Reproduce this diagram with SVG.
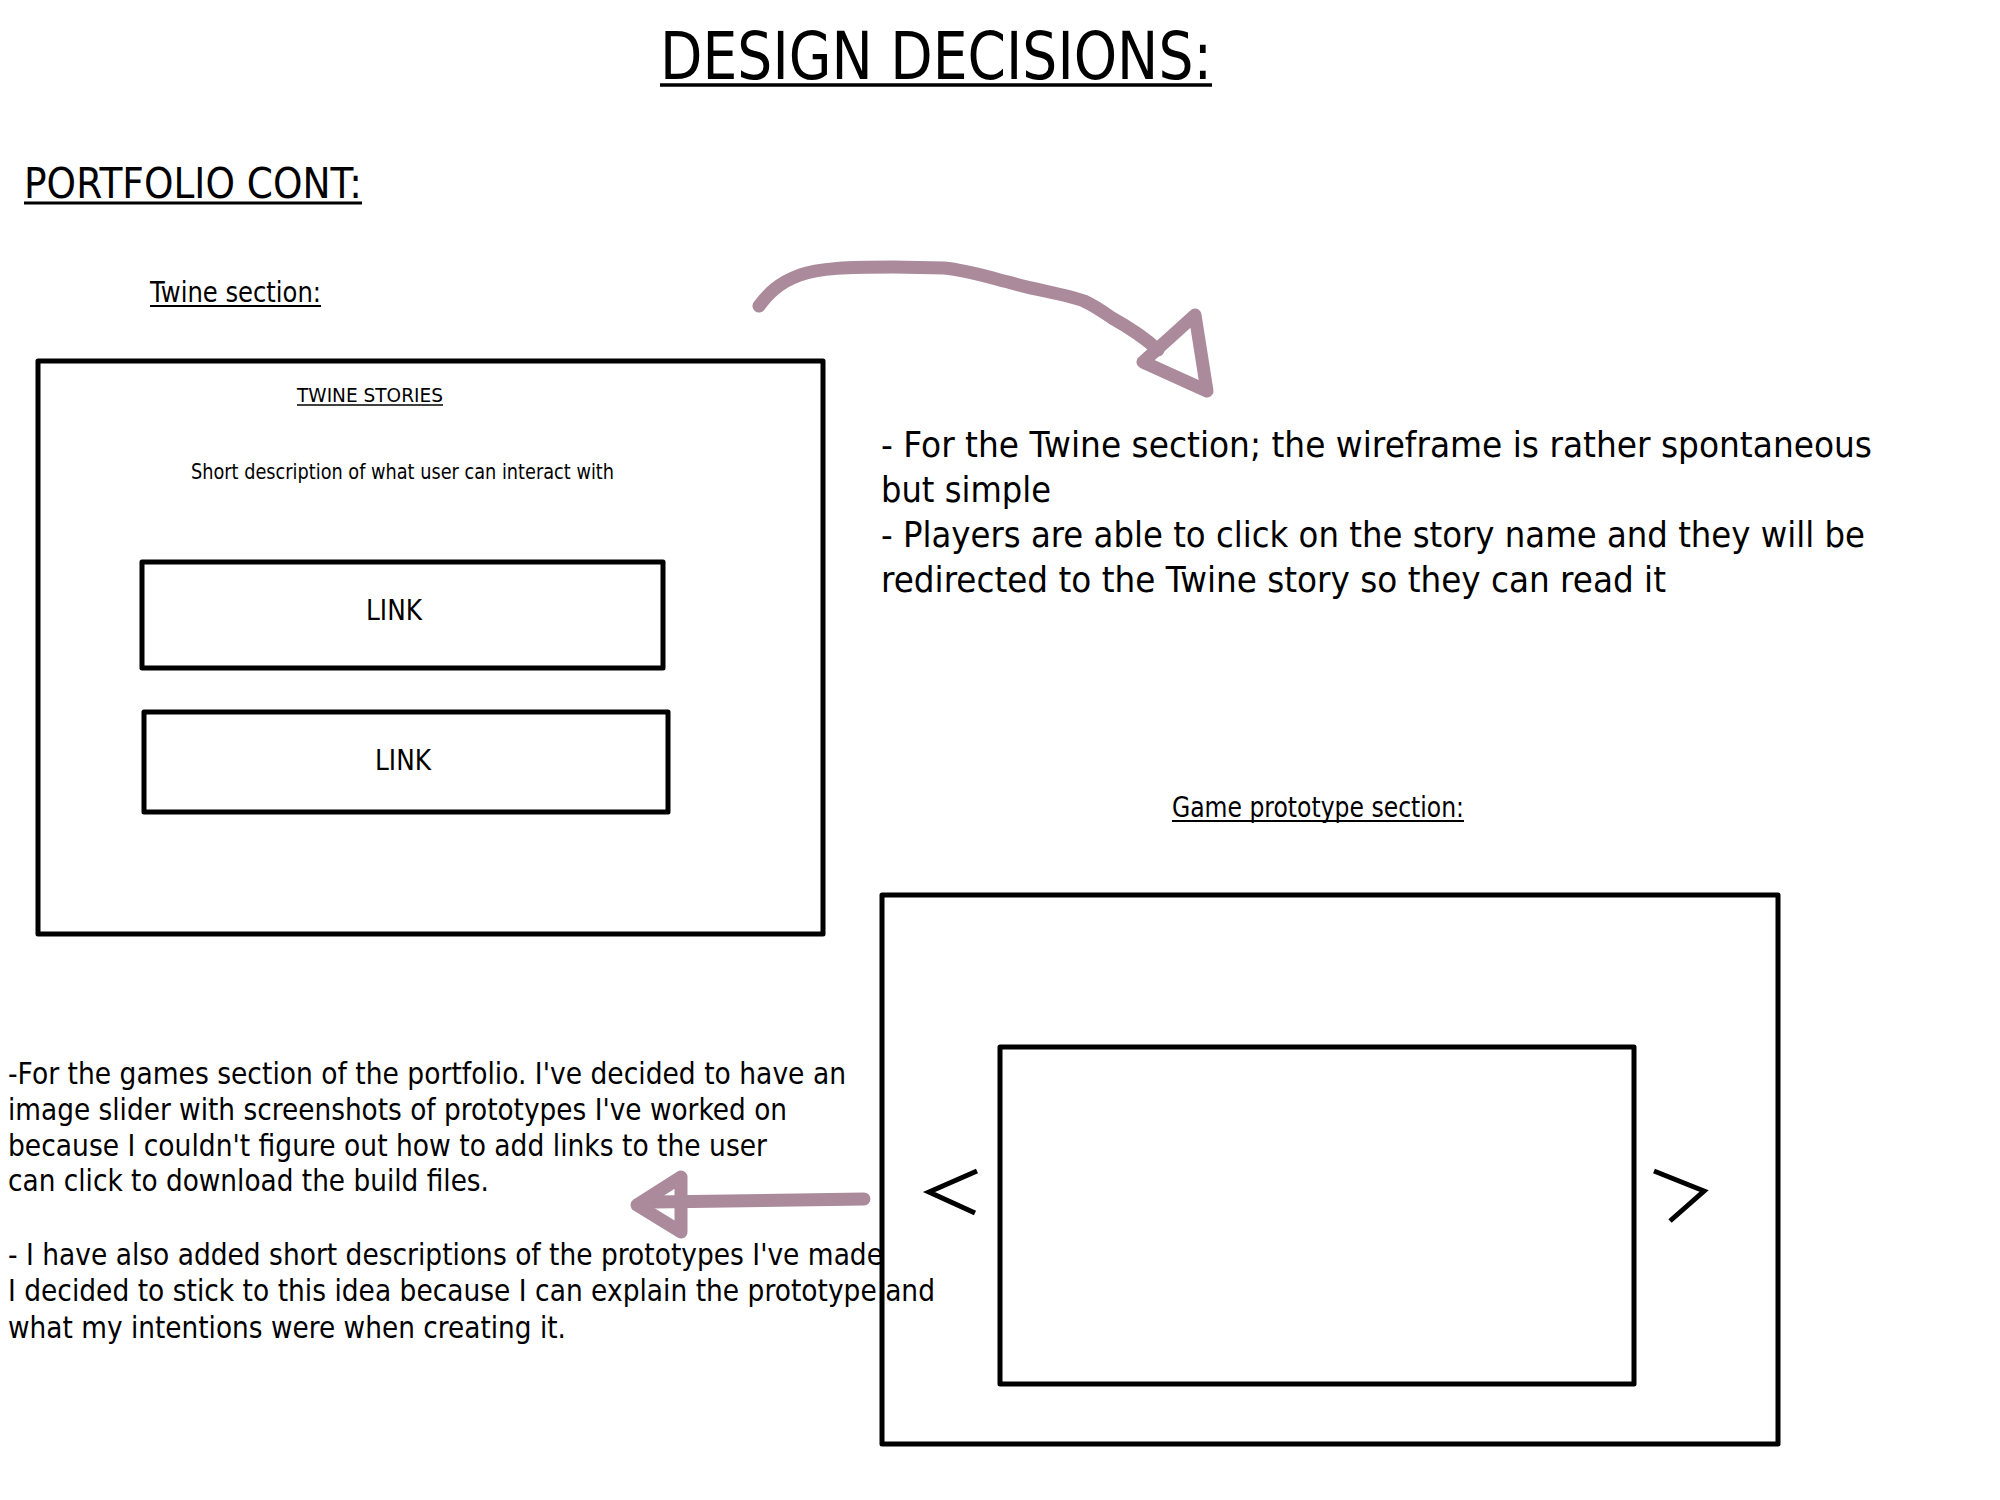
<svg xmlns="http://www.w3.org/2000/svg" width="2000" height="1500" viewBox="0 0 2000 1500">
<style>
  text { font-family: "DejaVu Sans", "Liberation Sans", sans-serif; fill: #000; }
  .box { fill: none; stroke: #000; stroke-width: 5; stroke-linejoin: round; }
  .ul { stroke: #000; stroke-width: 2.5; }
  .arrow { fill: none; stroke: #ab8a9b; stroke-width: 13; stroke-linecap: round; stroke-linejoin: round; }
  .chev { fill: none; stroke: #000; stroke-width: 5; }
</style>
<rect width="2000" height="1500" fill="#fff"/>

<g id="title">
  <text x="660" y="79" font-size="65" textLength="552" lengthAdjust="spacingAndGlyphs">DESIGN DECISIONS:</text>
  <line class="ul" x1="660" y1="85" x2="1212" y2="85" style="stroke-width:3.5"/>
</g>
<g id="portfolio-heading">
  <text x="24" y="198" font-size="42" textLength="338" lengthAdjust="spacingAndGlyphs">PORTFOLIO CONT:</text>
  <line class="ul" x1="24" y1="203" x2="362" y2="203" style="stroke-width:3"/>
</g>
<g id="twine-heading">
  <text x="150" y="302" font-size="29" textLength="171" lengthAdjust="spacingAndGlyphs">Twine section:</text>
  <line class="ul" x1="150" y1="306" x2="321" y2="306" style="stroke-width:2"/>
</g>

<g id="twine-wireframe">
  <rect class="box" x="38" y="361" width="785" height="573"/>
  <text x="297" y="402" font-size="20" textLength="146" lengthAdjust="spacingAndGlyphs">TWINE STORIES</text>
  <line class="ul" x1="297" y1="405" x2="443" y2="405" style="stroke-width:1.5"/>
  <text x="191" y="479" font-size="21" textLength="423" lengthAdjust="spacingAndGlyphs">Short description of what user can interact with</text>
</g>
<g id="link1">
  <rect class="box" x="142" y="562" width="521" height="106"/>
  <text x="366" y="620" font-size="28" textLength="56" lengthAdjust="spacingAndGlyphs">LINK</text>
</g>
<g id="link2">
  <rect class="box" x="144" y="712" width="524" height="100"/>
  <text x="375" y="770" font-size="28" textLength="56" lengthAdjust="spacingAndGlyphs">LINK</text>
</g>

<g id="twine-notes">
  <text x="881" y="457" font-size="36" textLength="991" lengthAdjust="spacingAndGlyphs">- For the Twine section; the wireframe is rather spontaneous</text>
  <text x="881" y="502" font-size="36" textLength="170" lengthAdjust="spacingAndGlyphs">but simple</text>
  <text x="881" y="547" font-size="36" textLength="984" lengthAdjust="spacingAndGlyphs">- Players are able to click on the story name and they will be</text>
  <text x="881" y="592" font-size="36" textLength="785" lengthAdjust="spacingAndGlyphs">redirected to the Twine story so they can read it</text>
</g>

<g id="game-heading">
  <text x="1172" y="817" font-size="29" textLength="292" lengthAdjust="spacingAndGlyphs">Game prototype section:</text>
  <line class="ul" x1="1172" y1="821" x2="1464" y2="821" style="stroke-width:2"/>
</g>

<g id="game-notes">
  <text x="8" y="1084" font-size="31" textLength="838" lengthAdjust="spacingAndGlyphs">-For the games section of the portfolio. I've decided to have an</text>
  <text x="8" y="1120" font-size="31" textLength="779" lengthAdjust="spacingAndGlyphs">image slider with screenshots of prototypes I've worked on</text>
  <text x="8" y="1156" font-size="31" textLength="759" lengthAdjust="spacingAndGlyphs">because I couldn't figure out how to add links to the user</text>
  <text x="8" y="1191" font-size="31" textLength="481" lengthAdjust="spacingAndGlyphs">can click to download the build files.</text>
  <text x="8" y="1265" font-size="31" textLength="875" lengthAdjust="spacingAndGlyphs">- I have also added short descriptions of the prototypes I've made</text>
  <text x="8" y="1301" font-size="31" textLength="927" lengthAdjust="spacingAndGlyphs">I decided to stick to this idea because I can explain the prototype and</text>
  <text x="8" y="1338" font-size="31" textLength="558" lengthAdjust="spacingAndGlyphs">what my intentions were when creating it.</text>
</g>

<g id="game-wireframe">
  <rect class="box" x="882" y="895" width="896" height="549"/>
  <rect class="box" x="1000" y="1047" width="634" height="337"/>
  <polyline class="chev" points="977,1171 929,1192 975,1213"/>
  <polyline class="chev" points="1654,1171 1704,1191 1670,1221"/>
</g>

<g id="connectors">
  <path class="arrow" d="M759,306 C768,294 778,283 800,275 C818,268 850,267 893,267 L944,268 C965,270 985,276 1008,282 C1035,290 1065,294 1084,301 C1095,306 1102,311 1112,318 C1130,328 1145,338 1158,350"/>
  <polygon class="arrow" points="1143,362 1195,315 1207,391"/>
  <path class="arrow" d="M864,1199 L655,1202"/>
  <polygon class="arrow" points="681,1177 637,1205 681,1232"/>
</g>
</svg>
